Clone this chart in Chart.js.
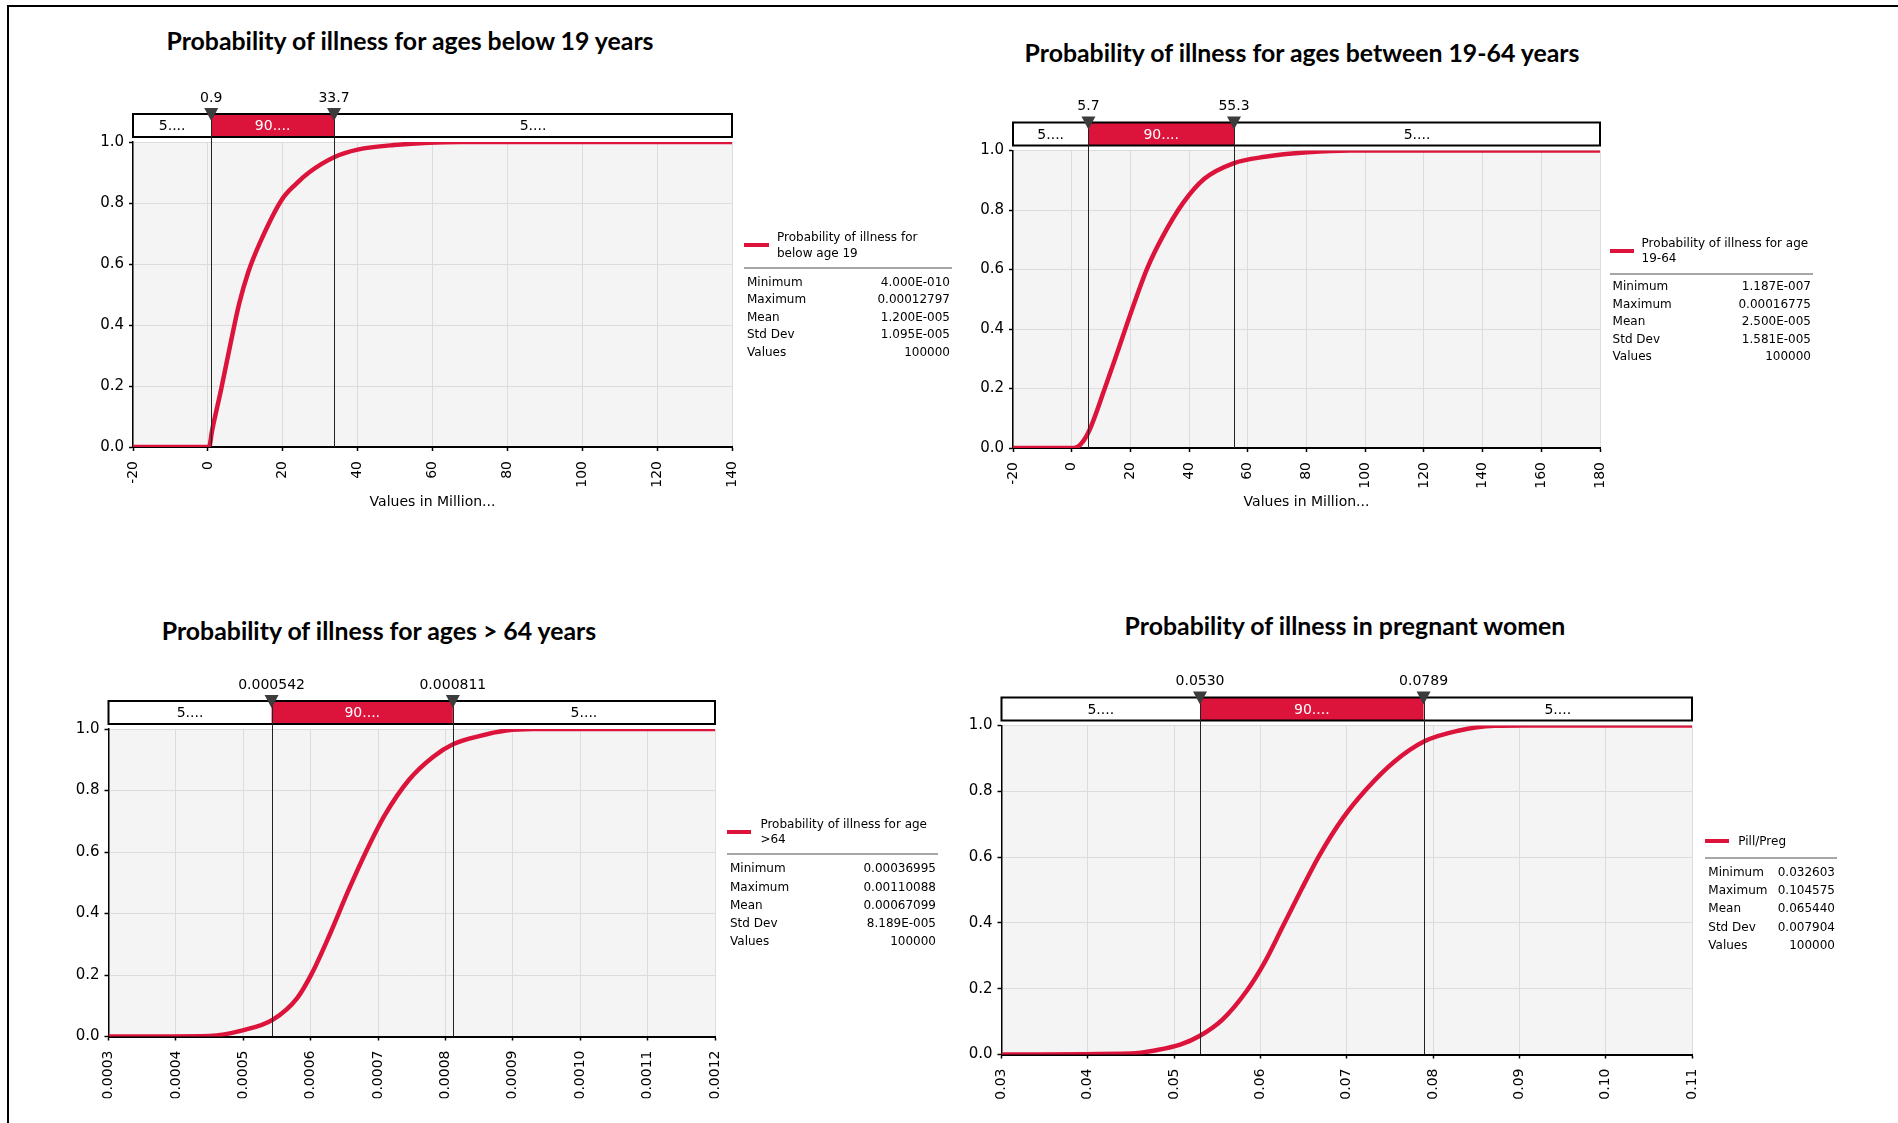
<!DOCTYPE html>
<html>
<head>
<meta charset="utf-8">
<script src="https://cdn.jsdelivr.net/npm/chart.js@4.4.1/dist/chart.umd.min.js"></script>
<style>
    body { margin: 0; background: #fff; }
    #page { position: relative; width: 1898px; height: 1123px; overflow: hidden; background: #fff; font-family: "DejaVu Sans", sans-serif; }
    .box { position: absolute; }
    .box canvas { display: block; }
    .title { position: absolute; font-family: Lato, "Open Sans", sans-serif; font-weight: 700; color: #000; white-space: nowrap; line-height: 1; transform: translate(-50%, -50%); }
    .lg { position: absolute; font-size: 12px; line-height: 1; color: #000; white-space: nowrap; transform: translateY(-50%); }
    .lgv { transform: translate(-100%, -50%); }
    .swatch { position: absolute; height: 4px; margin-top: -2px; background: #dc143c; }
    .sep { position: absolute; height: 2px; margin-top: -1px; background: #a6a6a6; }
    .frame { position: absolute; background: #000; }
</style>
</head>
<body>
<div id="page">
    <div class="frame" style="left:7px;top:5px;width:1891px;height:2px"></div>
    <div class="frame" style="left:7px;top:5px;width:2px;height:1118px"></div>
</div>
<script>
// CDF points
const below19X = [-20, 0.3, 1.13, 3.56, 6.0, 8.4, 10.8, 14.1, 19.7, 23.5, 27, 33.7, 40, 49.7, 67.5, 140];
const below19Y = [0, 0, 0.054, 0.19, 0.336, 0.472, 0.574, 0.675, 0.81, 0.862, 0.90, 0.95, 0.975, 0.99, 1.0, 1.0];

const adultX = [-20, 0.8, 3.0, 6.0, 11.2, 15.3, 20.5, 25.7, 30.8, 37.9, 45.2, 55.1, 65.9, 80.4, 94.8, 180];
const adultY = [0, 0, 0.012, 0.059, 0.198, 0.314, 0.464, 0.603, 0.707, 0.823, 0.905, 0.957, 0.979, 0.994, 1.0, 1.0];

const over64X = [0.0003, 0.00045, 0.000499, 0.000544, 0.00058, 0.000602, 0.000629, 0.000656, 0.000683, 0.00071, 0.000746, 0.000782, 0.000812, 0.00085, 0.00089, 0.00093, 0.0012];
const over64Y = [0, 0.002, 0.02, 0.055, 0.125, 0.206, 0.335, 0.475, 0.605, 0.72, 0.835, 0.91, 0.951, 0.977, 0.995, 1.0, 1.0];

const pregX = [0.03, 0.045, 0.0479, 0.0507, 0.053, 0.0556, 0.0584, 0.0605, 0.0626, 0.0647, 0.0668, 0.0696, 0.0724, 0.0755, 0.079, 0.0829, 0.0871, 0.0905, 0.11];
const pregY = [0, 0.003, 0.013, 0.03, 0.057, 0.106, 0.193, 0.281, 0.39, 0.499, 0.604, 0.72, 0.81, 0.89, 0.952, 0.984, 0.999, 1.0, 1.0];

// tick values
const below19Ticks = [-20, 0, 20, 40, 60, 80, 100, 120, 140];
const adultTicks = [-20, 0, 20, 40, 60, 80, 100, 120, 140, 160, 180];
const over64Ticks = [0.0003, 0.0004, 0.0005, 0.0006, 0.0007, 0.0008, 0.0009, 0.0010, 0.0011, 0.0012];
const pregTicks = [0.03, 0.04, 0.05, 0.06, 0.07, 0.08, 0.09, 0.10, 0.11];
const probTicks = [0, 0.2, 0.4, 0.6, 0.8, 1.0];

// 5% / 95% markers
const below19Marks = [0.9, 33.7];
const adultMarks = [5.7, 55.3];
const over64Marks = [0.000542, 0.000811];
const pregMarks = [0.0530, 0.0789];
const below19MarkLabels = ["0.9", "33.7"];
const adultMarkLabels = ["5.7", "55.3"];
const over64MarkLabels = ["0.000542", "0.000811"];
const pregMarkLabels = ["0.0530", "0.0789"];
const bandLabels = ["5....", "90....", "5...."];

const titles = [
    "Probability of illness for ages below 19 years",
    "Probability of illness for ages between 19-64 years",
    "Probability of illness for ages > 64 years",
    "Probability of illness in pregnant women"
];
const below19Name = ["Probability of illness for", "below age 19"];
const adultName = ["Probability of illness for age", "19-64"];
const over64Name = ["Probability of illness for age", ">64"];
const pregName = ["Pill/Preg"];
const axisTitle = "Values in Million...";

const statNames = ["Minimum", "Maximum", "Mean", "Std Dev", "Values"];
const below19Stats = ["4.000E-010", "0.00012797", "1.200E-005", "1.095E-005", "100000"];
const adultStats = ["1.187E-007", "0.00016775", "2.500E-005", "1.581E-005", "100000"];
const over64Stats = ["0.00036995", "0.00110088", "0.00067099", "8.189E-005", "100000"];
const pregStats = ["0.032603", "0.104575", "0.065440", "0.007904", "100000"];

const RED = "#dc143c";
const page = document.getElementById("page");

// background + band bar with markers
const bandPlugin = {
    id: "band",
    beforeDraw(chart) {
        const a = chart.chartArea;
        chart.ctx.save();
        chart.ctx.fillStyle = "#f4f4f4";
        chart.ctx.fillRect(a.left, a.top, a.right - a.left, a.bottom - a.top);
        chart.ctx.restore();
    },
    afterDraw(chart, args, opts) {
        const ctx = chart.ctx;
        const a = chart.chartArea;
        const x = chart.scales.x;
        const p1 = x.getPixelForValue(opts.marks[0]);
        const p2 = x.getPixelForValue(opts.marks[1]);
        const top = a.top - 28, bot = a.top - 5;
        ctx.save();
        ctx.fillStyle = "#fff";
        ctx.fillRect(a.left, top, a.right - a.left, bot - top);
        ctx.fillStyle = RED;
        ctx.fillRect(p1, top, p2 - p1, bot - top);
        ctx.strokeStyle = "#000";
        ctx.lineWidth = 2;
        ctx.strokeRect(a.left, top, a.right - a.left, bot - top);

        ctx.lineWidth = 1;
        ctx.strokeStyle = "#222";
        [p1, p2].forEach(p => {
            ctx.beginPath();
            ctx.moveTo(Math.round(p) + 0.5, top);
            ctx.lineTo(Math.round(p) + 0.5, a.bottom);
            ctx.stroke();
        });

        ctx.font = '14px "DejaVu Sans"';
        ctx.textAlign = "center";
        ctx.textBaseline = "middle";
        const mid = (top + bot) / 2 + 1;
        ctx.fillStyle = "#000";
        ctx.fillText(opts.band[0], (a.left + p1) / 2, mid);
        ctx.fillStyle = "#fff";
        ctx.fillText(opts.band[1], (p1 + p2) / 2, mid);
        ctx.fillStyle = "#000";
        ctx.fillText(opts.band[2], (p2 + a.right) / 2, mid);

        ctx.fillStyle = "#3c3c3c";
        [p1, p2].forEach(p => {
            ctx.beginPath();
            ctx.moveTo(p - 7, top - 6);
            ctx.lineTo(p + 7, top - 6);
            ctx.lineTo(p, top + 7);
            ctx.closePath();
            ctx.fill();
        });

        ctx.fillStyle = "#000";
        ctx.fillText(opts.labels[0], p1, a.top - 44);
        ctx.fillText(opts.labels[1], p2, a.top - 44);
        ctx.restore();
    }
};

function makeChart(cfg) {
    const div = document.createElement("div");
    div.className = "box";
    div.style.left = cfg.box.x + "px";
    div.style.top = cfg.box.y + "px";
    const canvas = document.createElement("canvas");
    canvas.width = cfg.box.w;
    canvas.height = cfg.box.h;
    div.appendChild(canvas);
    page.appendChild(div);

    const yW = 50;
    const pad = {
        left: cfg.area.l - cfg.box.x - yW,
        right: cfg.box.x + cfg.box.w - cfg.area.r,
        top: cfg.area.t - cfg.box.y,
        bottom: cfg.box.y + cfg.box.h - cfg.area.b - cfg.xH
    };

    const points = cfg.xs.map((v, i) => ({ x: v, y: cfg.ys[i] }));

    return new Chart(canvas.getContext("2d"), {
        type: "line",
        data: {
            datasets: [{
                data: points,
                borderColor: RED,
                borderWidth: 4.5,
                pointRadius: 0,
                cubicInterpolationMode: "monotone",
                fill: false
            }]
        },
        options: {
            responsive: false,
            animation: false,
            devicePixelRatio: 1,
            layout: { padding: pad },
            plugins: {
                legend: { display: false },
                tooltip: { enabled: false },
                band: { marks: cfg.marks, labels: cfg.markLabels, band: bandLabels }
            },
            scales: {
                x: {
                    type: "linear",
                    min: cfg.ticks[0],
                    max: cfg.ticks[cfg.ticks.length - 1],
                    afterBuildTicks: s => { s.ticks = cfg.ticks.map(v => ({ value: v })); },
                    afterFit: s => { s.height = cfg.xH; },
                    ticks: {
                        minRotation: 90,
                        maxRotation: 90,
                        padding: 10,
                        color: "#000",
                        font: { family: "DejaVu Sans", size: 14 },
                        callback: v => Number(v).toFixed(cfg.dec)
                    },
                    grid: { color: "#dcdcdc", lineWidth: 1, tickLength: 4, tickColor: "#000", tickWidth: 1.5 },
                    border: { color: "#000", width: 2 },
                    title: {
                        display: cfg.showTitle,
                        text: axisTitle,
                        color: "#000",
                        padding: 0,
                        font: { family: "DejaVu Sans", size: 14 }
                    }
                },
                y: {
                    min: 0,
                    max: 1,
                    afterBuildTicks: s => { s.ticks = probTicks.map(v => ({ value: v })); },
                    afterFit: s => { s.width = yW; },
                    ticks: {
                        padding: 5,
                        color: "#000",
                        font: { family: "DejaVu Sans", size: 15 },
                        callback: v => Number(v).toFixed(1)
                    },
                    grid: { color: "#dcdcdc", lineWidth: 1, tickLength: 4, tickColor: "#000", tickWidth: 1.5 },
                    border: { color: "#000", width: 1.5 }
                }
            }
        },
        plugins: [bandPlugin]
    });
}

function addDiv(cls, text, left, top, extra) {
    const d = document.createElement("div");
    d.className = cls;
    if (text !== null) d.textContent = text;
    d.style.left = left + "px";
    d.style.top = top + "px";
    if (extra) Object.assign(d.style, extra);
    page.appendChild(d);
    return d;
}

function makeLegend(lg, name, stats) {
    addDiv("swatch", null, lg.sx, lg.sy, { width: lg.sw + "px" });
    name.forEach((t, i) => addDiv("lg", t, lg.tx, lg.ty[i]));
    addDiv("sep", null, lg.sx, lg.sepY, { width: lg.sepW + "px" });
    statNames.forEach((t, i) => {
        addDiv("lg", t, lg.lx, lg.rows[i]);
        addDiv("lg lgv", stats[i], lg.vr, lg.rows[i]);
    });
}

// titles, same size for all, fitted on the first one
const mctx = document.createElement("canvas").getContext("2d");
mctx.font = "700 100px Lato";
const titleSize = 100 * 490 / mctx.measureText(titles[0]).width;
const titlePos = [[410, 40], [1302, 52], [379, 630], [1345, 625]];
titles.forEach((t, i) => {
    addDiv("title", t, titlePos[i][0], titlePos[i][1], { fontSize: titleSize + "px" });
});

makeChart({
    box: { x: 0, y: 0, w: 950, h: 560 }, area: { l: 133, r: 732, t: 142, b: 447 }, xH: 63.4,
    xs: below19X, ys: below19Y, ticks: below19Ticks, dec: 0,
    marks: below19Marks, markLabels: below19MarkLabels, showTitle: true
});
makeChart({
    box: { x: 950, y: 0, w: 948, h: 560 }, area: { l: 1013, r: 1600, t: 150.5, b: 448 }, xH: 62.4,
    xs: adultX, ys: adultY, ticks: adultTicks, dec: 0,
    marks: adultMarks, markLabels: adultMarkLabels, showTitle: true
});
makeChart({
    box: { x: 0, y: 560, w: 950, h: 563 }, area: { l: 108.5, r: 715, t: 729, b: 1036.5 }, xH: 62,
    xs: over64X, ys: over64Y, ticks: over64Ticks, dec: 4,
    marks: over64Marks, markLabels: over64MarkLabels, showTitle: false
});
makeChart({
    box: { x: 950, y: 560, w: 948, h: 563 }, area: { l: 1001.5, r: 1692, t: 725.5, b: 1054.5 }, xH: 62,
    xs: pregX, ys: pregY, ticks: pregTicks, dec: 2,
    marks: pregMarks, markLabels: pregMarkLabels, showTitle: false
});

makeLegend({ sx: 744, sw: 25, sy: 245.3, tx: 777, ty: [236.7, 253], sepY: 267.7, sepW: 208,
    rows: [281.7, 299.3, 316.7, 334.3, 352.3], lx: 747, vr: 950 }, below19Name, below19Stats);
makeLegend({ sx: 1610, sw: 24, sy: 251.4, tx: 1641.6, ty: [242.8, 258.3], sepY: 274, sepW: 203,
    rows: [285.8, 303.7, 320.9, 338.5, 355.7], lx: 1612.6, vr: 1811 }, adultName, adultStats);
makeLegend({ sx: 727, sw: 24, sy: 832.2, tx: 760.4, ty: [823.9, 839.4], sepY: 854.4, sepW: 211,
    rows: [868.1, 886.8, 904.7, 922.7, 940.6], lx: 730, vr: 936 }, over64Name, over64Stats);
makeLegend({ sx: 1705, sw: 24, sy: 840.7, tx: 1738.3, ty: [840.7], sepY: 858.3, sepW: 132,
    rows: [872.3, 890, 908.3, 926.7, 945], lx: 1708.3, vr: 1835 }, pregName, pregStats);
</script>
</body>
</html>
